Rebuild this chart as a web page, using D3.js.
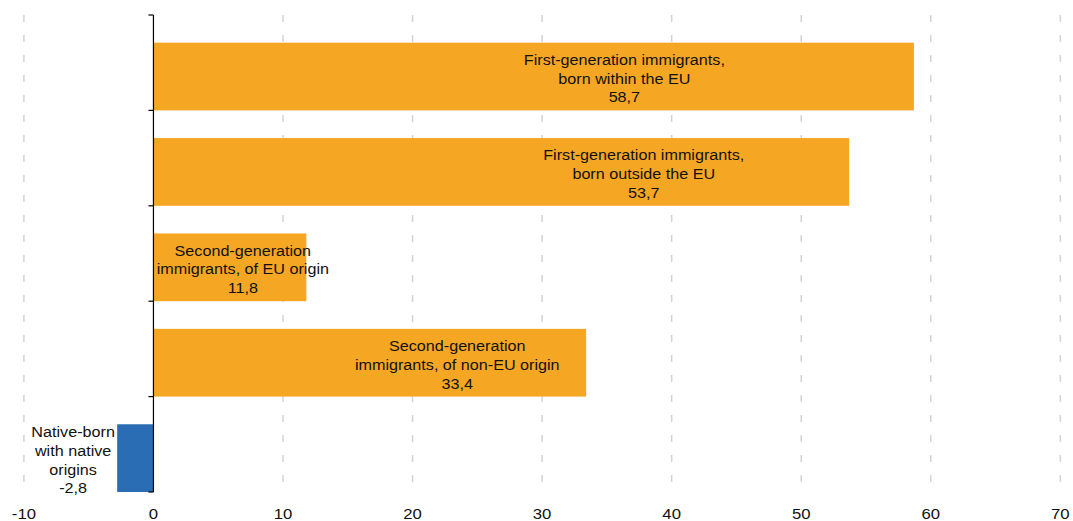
<!DOCTYPE html>
<html><head><meta charset="utf-8">
<script src="https://cdn.jsdelivr.net/npm/d3@7"></script>
<style>body{margin:0;background:#fff}svg{display:block}text{font-family:"Liberation Sans",Arial,sans-serif}</style>
</head><body><svg id="c" width="1073" height="521"></svg>
<script>
const categories = [
  ["First-generation immigrants,", "born within the EU"],
  ["First-generation immigrants,", "born outside the EU"],
  ["Second-generation", "immigrants, of EU origin"],
  ["Second-generation", "immigrants, of non-EU origin"],
  ["Native-born", "with native", "origins"]
];
const values = [58.7, 53.7, 11.8, 33.4, -2.8];
const valueLabels = ["58,7", "53,7", "11,8", "33,4", "-2,8"];
const xTicks = [-10, 0, 10, 20, 30, 40, 50, 60, 70];
// label anchor (in axis units) for each bar's text
const labelAnchor = [36.35, 37.85, 6.9, 23.45, -6.2];

const stretch = 1.115;
const svg = d3.select("#c");
const x = d3.scaleLinear().domain([-10, 70]).range([23.9, 1060.3]);
const y = d3.scaleBand().domain(d3.range(values.length)).range([15, 492])
  .paddingInner(0.29).paddingOuter(0.145).align(1);
const step = y.step();
const sx = ax => `translate(${ax},0) scale(${stretch},1) translate(${-ax},0)`;

// gridlines
svg.append("g").selectAll("line").data(xTicks.filter(d => d !== 0)).join("line")
  .attr("x1", d => x(d)).attr("x2", d => x(d)).attr("y1", 15).attr("y2", 492)
  .attr("stroke", "#d3d3d3").attr("stroke-width", 1.5).attr("stroke-dasharray", "7,13");

// bars
svg.append("g").selectAll("rect").data(values).join("rect")
  .attr("x", d => Math.min(x(0), x(d))).attr("width", d => Math.abs(x(d) - x(0)))
  .attr("y", (d, i) => y(i)).attr("height", y.bandwidth())
  .attr("fill", d => d < 0 ? "#2b6db4" : "#f5a623");

// y axis
const ax = svg.append("g");
ax.append("line").attr("x1", x(0)).attr("x2", x(0)).attr("y1", 15).attr("y2", 492)
  .attr("stroke", "#000").attr("stroke-width", 1.2);
const bounds = d3.range(values.length + 1).map(i => 15 + i * step);
ax.selectAll("line.t").data(bounds).join("line").attr("class", "t")
  .attr("x1", x(0) - 5).attr("x2", x(0)).attr("y1", d => d).attr("y2", d => d)
  .attr("stroke", "#000").attr("stroke-width", 1.2);

// x tick labels
svg.append("g").selectAll("text").data(xTicks).join("text")
  .attr("x", d => x(d)).attr("y", 519).attr("text-anchor", "middle")
  .attr("transform", d => sx(x(d)))
  .attr("font-size", 15).attr("fill", "#111").text(d => d);

// bar labels
const lh = 18.8;
const lab = svg.append("g");
values.forEach((v, i) => {
  const lines = categories[i].concat([valueLabels[i]]);
  const cy = y(i) + y.bandwidth() / 2;
  const axp = x(labelAnchor[i]);
  const t = lab.append("text").attr("text-anchor", "middle").attr("font-size", 14.5)
    .attr("fill", "#111").attr("transform", sx(axp));
  lines.forEach((l, k) => {
    t.append("tspan").attr("x", axp)
      .attr("y", cy + (k - (lines.length - 1) / 2) * lh + 7).text(l);
  });
});
</script></body></html>
